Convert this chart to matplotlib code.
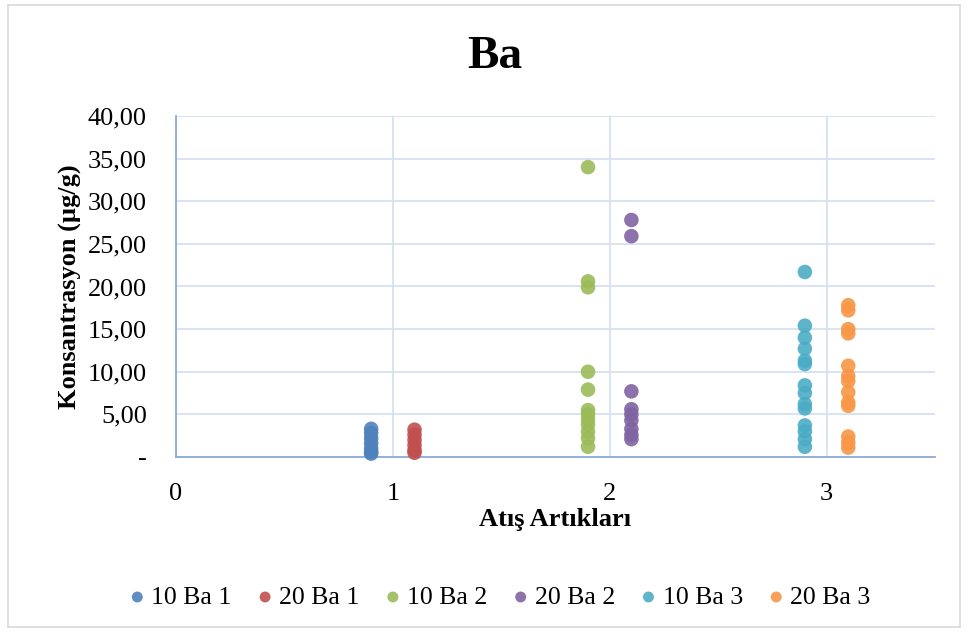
import matplotlib.pyplot as plt
from matplotlib.patches import Rectangle
from matplotlib.ticker import FuncFormatter

# series: x position and concentration values (µg/g)
labels = ["10 Ba 1", "20 Ba 1", "10 Ba 2", "20 Ba 2", "10 Ba 3", "20 Ba 3"]
x_pos = [0.9, 1.1, 1.9, 2.1, 2.9, 3.1]
colors = ["#4F81BD", "#C0504D", "#9BBB59", "#8064A2", "#4BACC6", "#F79646"]

ba10_1 = [3.3, 2.8, 2.2, 1.6, 1.0, 0.6, 0.4]
ba20_1 = [3.2, 2.6, 2.0, 1.4, 0.8, 0.5]
ba10_2 = [34.0, 20.6, 19.9, 10.0, 7.9, 5.5, 5.0, 4.4, 3.8, 3.0, 2.2, 1.2]
ba20_2 = [27.8, 25.9, 7.7, 5.6, 5.0, 4.3, 3.3, 2.6, 2.1]
ba10_3 = [21.7, 15.4, 14.0, 12.7, 11.3, 10.9, 8.4, 7.5, 6.2, 5.7, 3.7, 3.0, 2.1, 1.2]
ba20_3 = [17.8, 17.2, 15.0, 14.5, 10.7, 9.5, 8.9, 7.6, 6.4, 6.0, 2.4, 1.7, 1.1]
series = [ba10_1, ba20_1, ba10_2, ba20_2, ba10_3, ba20_3]

plt.rcParams["font.family"] = ["Liberation Serif", "DejaVu Serif"]

fig = plt.figure(figsize=(9.68, 6.32), dpi=100)
fig.patches.append(Rectangle((0.008, 0.008), 0.984, 0.984, transform=fig.transFigure,
                             fill=False, edgecolor="#D9D9D9", linewidth=1.2))

ax = fig.add_axes([0.1818, 0.2769, 0.7841, 0.5396])

for vals, xp, c, lab in zip(series, x_pos, colors, labels):
    ax.scatter([xp] * len(vals), vals, s=110, color=c, alpha=0.9,
               edgecolors="none", label=lab, zorder=3, clip_on=False)

ax.set_xlim(0, 3.5)
ax.set_ylim(0, 40)
ax.set_xticks([0, 1, 2, 3])
ax.set_yticks(range(0, 41, 5))
ax.yaxis.set_major_formatter(FuncFormatter(
    lambda v, p: "-" if v == 0 else f"{v:.2f}".replace(".", ",")))

ax.grid(True, color="#D6E1F2", linewidth=1.3)
ax.set_axisbelow(True)
for side in ["top", "right"]:
    ax.spines[side].set_visible(False)
for side in ["left", "bottom"]:
    ax.spines[side].set_color("#8EAADB")
    ax.spines[side].set_linewidth(1.3)
ax.tick_params(length=0, labelsize=19)
ax.tick_params(axis="x", pad=19)
ax.tick_params(axis="y", pad=21)

ax.set_xlabel("Atış Artıkları", fontsize=19, fontweight="bold", labelpad=2)
ax.set_ylabel("Konsantrasyon (µg/g)", fontsize=19, fontweight="bold", labelpad=4)
fig.text(0.511, 0.91, "Ba", ha="center", va="center", fontsize=34, fontweight="bold")

fig.legend(loc="center", bbox_to_anchor=(0.514, 0.055), ncol=6, frameon=False,
           fontsize=18.5, handlelength=1.0, handletextpad=0.05,
           columnspacing=0.8, markerscale=0.75)

fig.savefig("out.png", dpi=100)
